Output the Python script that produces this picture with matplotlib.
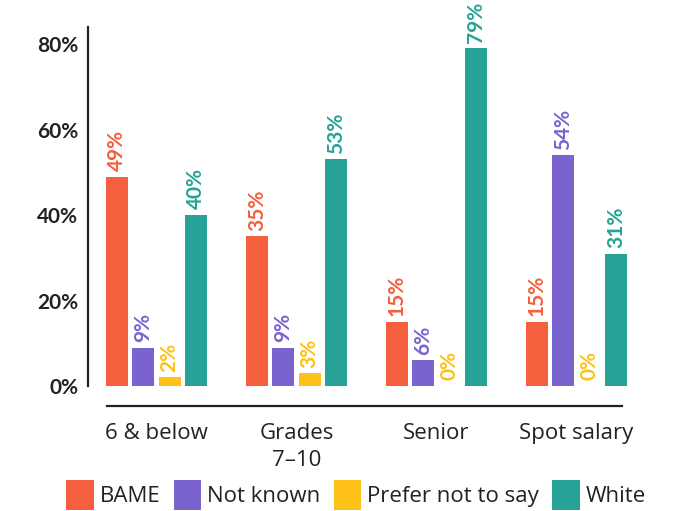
import matplotlib
matplotlib.use("Agg")
import matplotlib.pyplot as plt
import numpy as np

plt.rcParams['font.family'] = ['Lato', 'DejaVu Sans']

categories = ["6 & below", "Grades\n7\u201310", "Senior", "Spot salary"]
series = ["BAME", "Not known", "Prefer not to say", "White"]
bame = [49, 35, 15, 15]
not_known = [9, 9, 6, 54]
prefer_not = [2, 3, 0, 0]
white = [40, 53, 79, 31]
yticks = [0, 20, 40, 60, 80]
ytick_labels = ["0%", "20%", "40%", "60%", "80%"]

colors = ["#F4603D", "#7A63CE", "#FDC117", "#26A396"]
text_dark = "#222222"
label_font = ["Open Sans", "DejaVu Sans"]

fig = plt.figure(figsize=(6.9, 5.11), dpi=100)
ax = fig.add_axes([88/690, (511-386)/511, 552/690, 359/511])

for s in ["top", "right"]:
    ax.spines[s].set_visible(False)
ax.spines["left"].set_linewidth(1.6)
ax.spines["left"].set_color(text_dark)
ax.spines["bottom"].set_position(("outward", 14.4))
ax.spines["bottom"].set_linewidth(1.6)
ax.spines["bottom"].set_color(text_dark)

x = np.arange(len(categories))
step = 0.189
width = 0.157
data = [bame, not_known, prefer_not, white]
for i, (vals, c) in enumerate(zip(data, colors)):
    xs = x + (i - 1.5) * step
    ax.bar(xs, vals, width=width, color=c, label=series[i], zorder=2)
    for xv, v in zip(xs, vals):
        ax.annotate(f"{v}%", (xv, v), xytext=(0, 4), textcoords="offset points",
                    rotation=90, ha="center", va="bottom", color=c,
                    fontsize=15, fontweight="bold", annotation_clip=False)

ax.set_xlim(-0.489, 3.454)
ax.set_ylim(0, 84)
ax.spines["bottom"].set_bounds(-0.354, 3.325)
ax.set_yticks(yticks)
ax.set_yticklabels(ytick_labels, fontsize=15, fontweight="bold", color=text_dark)
ax.tick_params(axis="y", length=0, pad=7)
ax.set_xticks(x)
ax.set_xticklabels(categories, fontsize=16, color=text_dark, linespacing=1.4,
                   family=label_font)
ax.tick_params(axis="x", length=0, pad=12)

handles, labels = ax.get_legend_handles_labels()
fig.legend(handles, labels, loc="center", bbox_to_anchor=(356/690, (511-495)/511),
           ncol=4, frameon=False, prop={"size": 16, "family": label_font},
           handlelength=1.25, handleheight=1.75,
           handletextpad=0.25, columnspacing=0.6, borderaxespad=0, borderpad=0,
           labelcolor=text_dark)

fig.savefig("out.png", dpi=100)
